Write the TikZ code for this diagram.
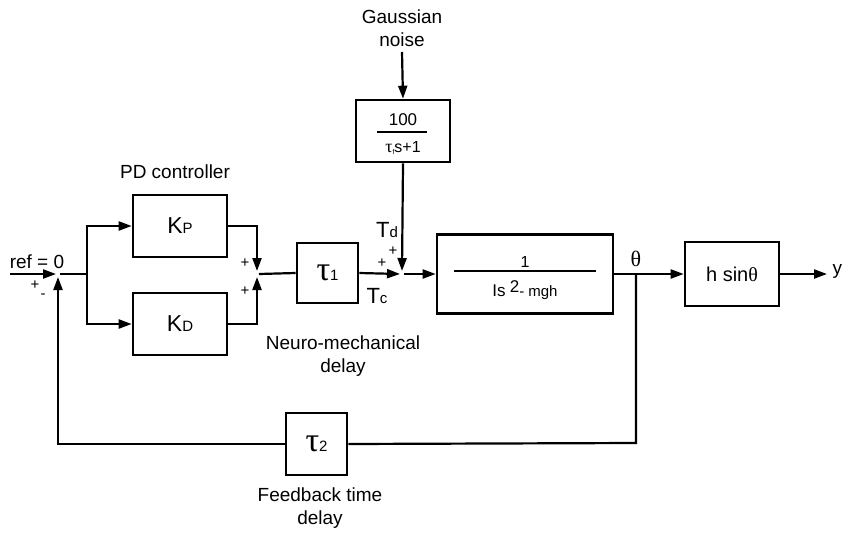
\documentclass[tikz,border=0pt]{standalone}
\usepackage{fontspec}
\setmainfont{Liberation Sans}
\newfontfamily\grkfont{Liberation Serif}
\usetikzlibrary{arrows.meta}

\newcommand{\lrg}{\fontsize{19}{23}\selectfont}
\newcommand{\bigk}{\fontsize{23}{23}\selectfont}
\newcommand{\sml}{\fontsize{15}{16}\selectfont}
\newcommand{\tauch}{{\grkfont\fontsize{34}{34}\selectfont τ}}
\newcommand{\thch}{{\grkfont θ}}

\begin{document}
\begin{tikzpicture}[x=1pt,y=-1pt,
    blk/.style={draw,line width=2.6pt,inner sep=0pt},
    wire/.style={line width=2.2pt},
    sig/.style={wire,-{Triangle[length=13pt,width=9pt]}},
    lbl/.style={font=\lrg,align=center},
    sgn/.style={font=\sml,inner sep=0pt}]
    \useasboundingbox (0,0) rectangle (842,535);

    % junctions and free ends
    \coordinate (in) at (10,274);
    \coordinate (s1) at (58,274);
    \coordinate (b1) at (87,274);
    \coordinate (s2) at (257,274);
    \coordinate (s3) at (402,274);
    \coordinate (b2) at (636,274);
    \coordinate (gn) at (402,52);
    \coordinate (fbr) at (636,443);
    \coordinate (out) at (827,274);

    % blocks
    \node[blk,minimum width=94pt,minimum height=62pt] (kp) at (180,226) {\bigk K\sml P};
    \node[blk,minimum width=94pt,minimum height=62pt] (kd) at (180,324) {\bigk K\sml D};
    \node[blk,minimum width=61pt,minimum height=60pt] (t1) at (327.5,273) {\tauch\sml 1};
    \node[blk,minimum width=94pt,minimum height=62pt] (filt) at (403,131) {};
    \node[blk,minimum width=176pt,minimum height=79pt] (plant) at (525,274) {};
    \node[blk,minimum width=94pt,minimum height=64pt] (hsin) at (732,274) {\fontsize{20}{20}\selectfont h sin\thch};
    \node[blk,minimum width=61pt,minimum height=62pt] (t2) at (316.5,444) {\tauch\sml 2};

    % fractions
    \node[font=\fontsize{17}{17}\selectfont] (fnum) at ([yshift=11pt]filt.center) {100};
    \draw[line width=1.2pt] ([xshift=-26pt,yshift=-1pt]filt.center) -- ([xshift=24pt,yshift=-1pt]filt.center);
    \node[font=\fontsize{16}{16}\selectfont] (fden) at ([yshift=-17pt]filt.center) {{\grkfont\fontsize{18}{18}\selectfont τ}\raisebox{-2pt}{\fontsize{7}{7}\selectfont f}s+1};
    \node[font=\fontsize{16}{16}\selectfont] (pnum) at ([yshift=12pt]plant.center) {1};
    \draw[line width=1.2pt] ([xshift=-71pt,yshift=3pt]plant.center) -- ([xshift=71pt,yshift=3pt]plant.center);
    \node[font=\fontsize{15}{15}\selectfont] (pden) at ([yshift=-16pt]plant.center) {{\fontsize{17}{17}\selectfont Is} \raisebox{4pt}{\fontsize{17}{17}\selectfont 2}- mgh};

    % signals
    \draw[sig] (in) -- ([xshift=-2pt]s1);
    \draw[wire] ([xshift=2pt]s1) -- (b1);
    \draw[sig] (b1) |- (kp.west);
    \draw[sig] (b1) |- (kd.west);
    \draw[sig] (kp.east) -| ([yshift=3pt]s2);
    \draw[sig] (kd.east) -| ([yshift=-3pt]s2);
    \draw[wire] ([xshift=2pt]s2) -- (t1.west);
    \draw[sig] (t1.east) -- ([xshift=-2pt]s3);
    \draw[sig] (gn) -- (filt.north);
    \draw[sig] (filt.south) -- ([yshift=3pt]s3);
    \draw[sig] ([xshift=2pt]s3) -- (plant.west);
    \draw[sig] (plant.east) -- (hsin.west);
    \draw[sig] (hsin.east) -- (out);
    \draw[wire] (b2) -- (fbr) -- (t2.east);
    \draw[sig] (t2.west) -| ([yshift=-3pt]s1);

    % labels
    \node[lbl] (gtxt) at (402,28) {Gaussian\\noise};
    \node[lbl] (pdtxt) at (175,172) {PD controller};
    \node[lbl] (nmtxt) at (343,356) {Neuro-mechanical\\delay};
    \node[lbl] (fbtxt) at (320,508) {Feedback time\\delay};
    \node[lbl] (reftxt) at (37,262) {ref = 0};
    \node[sgn] (p1) at (35,285) {+};
    \node[sgn] (m1) at (43,296) {-};
    \node[sgn] (p2) at (245,263) {+};
    \node[sgn] (p3) at (245,291) {+};
    \node[sgn] (p4) at (382,263) {+};
    \node[sgn] (p5) at (393,251) {+};
    \node (tdtxt) at (387,230) {\fontsize{22}{22}\selectfont T\sml d};
    \node (tctxt) at (377,296) {\fontsize{22}{22}\selectfont T\sml c};
    \node (thtxt) at (636,259) {\fontsize{22}{22}\selectfont\thch};
    \node[anchor=west,font=\lrg] (ytxt) at (829,271) {y};
\end{tikzpicture}
\end{document}
